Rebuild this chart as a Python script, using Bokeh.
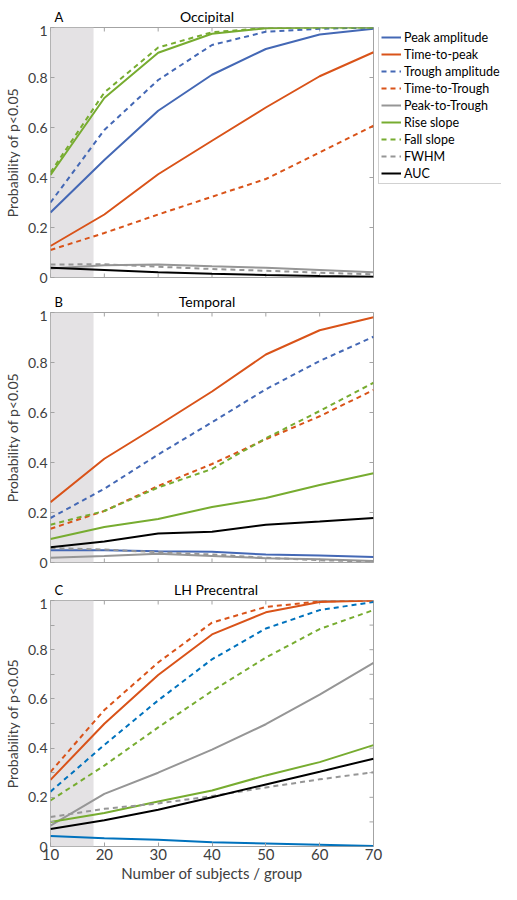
from bokeh.plotting import figure
from bokeh.models import Range1d, FixedTicker, Legend, LegendItem, Label, BoxAnnotation
from bokeh.layouts import column, row
from bokeh.embed import file_html
from bokeh.resources import INLINE
import math

# ---------------- data ----------------
subjects = [10, 20, 30, 40, 50, 60, 70]
shade_start = 10
shade_end = 18

x_ticks = [10, 20, 30, 40, 50, 60, 70]
y_ticks = [0, 0.2, 0.4, 0.6, 0.8, 1]
y_tick_labels = ["0", "0.2", "0.4", "0.6", "0.8", "1"]
y_minor_ticks = [0.1, 0.3, 0.5, 0.7, 0.9]

measures = ["Peak amplitude", "Time-to-peak", "Trough amplitude", "Time-to-Trough",
            "Peak-to-Trough", "Rise slope", "Fall slope", "FWHM", "AUC"]

# Occipital
occ_peak_amp = [0.26, 0.47, 0.667, 0.811, 0.914, 0.972, 0.995]
occ_time_to_peak = [0.126, 0.252, 0.413, 0.547, 0.68, 0.805, 0.901]
occ_trough_amp = [0.30, 0.59, 0.79, 0.93, 0.983, 0.995, 1.0]
occ_time_to_trough = [0.11, 0.178, 0.252, 0.323, 0.394, 0.50, 0.607]
occ_peak_to_trough = [0.036, 0.049, 0.052, 0.045, 0.039, 0.030, 0.021]
occ_rise_slope = [0.41, 0.718, 0.899, 0.975, 0.997, 1.0, 1.0]
occ_fall_slope = [0.42, 0.74, 0.92, 0.981, 0.998, 1.0, 1.0]
occ_fwhm = [0.052, 0.053, 0.043, 0.034, 0.027, 0.019, 0.013]
occ_auc = [0.039, 0.030, 0.021, 0.015, 0.010, 0.006, 0.003]

# Temporal
tmp_peak_amp = [0.049, 0.049, 0.045, 0.043, 0.032, 0.028, 0.022]
tmp_time_to_peak = [0.241, 0.415, 0.548, 0.684, 0.832, 0.929, 0.981]
tmp_trough_amp = [0.178, 0.295, 0.432, 0.561, 0.693, 0.806, 0.903]
tmp_time_to_trough = [0.135, 0.206, 0.306, 0.394, 0.493, 0.585, 0.69]
tmp_peak_to_trough = [0.019, 0.026, 0.035, 0.026, 0.017, 0.013, 0.006]
tmp_rise_slope = [0.094, 0.142, 0.174, 0.222, 0.258, 0.31, 0.357]
tmp_fall_slope = [0.151, 0.206, 0.30, 0.374, 0.497, 0.606, 0.719]
tmp_fwhm = [0.058, 0.052, 0.041, 0.032, 0.019, 0.009, 0.004]
tmp_auc = [0.061, 0.084, 0.116, 0.123, 0.151, 0.164, 0.178]

# LH Precentral
pre_peak_amp = [0.043, 0.034, 0.027, 0.017, 0.012, 0.007, 0.002]
pre_time_to_peak = [0.271, 0.499, 0.697, 0.862, 0.952, 0.994, 1.0]
pre_trough_amp = [0.223, 0.413, 0.594, 0.761, 0.886, 0.961, 0.994]
pre_time_to_trough = [0.303, 0.555, 0.748, 0.91, 0.974, 0.996, 1.0]
pre_peak_to_trough = [0.085, 0.214, 0.30, 0.394, 0.497, 0.617, 0.746]
pre_rise_slope = [0.10, 0.136, 0.183, 0.228, 0.289, 0.343, 0.412]
pre_fall_slope = [0.187, 0.329, 0.484, 0.632, 0.768, 0.884, 0.961]
pre_fwhm = [0.12, 0.153, 0.175, 0.205, 0.24, 0.273, 0.302]
pre_auc = [0.071, 0.107, 0.149, 0.20, 0.252, 0.304, 0.357]

# ---------------- style ----------------
FONT = "Lato"
AXC = "#a3a3a3"
TXT = "#404040"
BLUE_AB = "#4468b5"
BLUE_C = "#0072bd"
ORANGE = "#d95319"
GREEN = "#77ac30"
GRAY = "#969696"
BLACK = "#000000"
SHADE = "#e4e2e4"
DASH = "5 4"

W = 501
LEFT = 42
FRAME_W = 331
RIGHT_PAD = 5
LEG_W = W - LEFT - FRAME_W - RIGHT_PAD
FRAME_H = 250
TOP = 2
HEAD_H = 25
X_MIN, X_MAX = 10, 70
Y_MIN, Y_MAX = 0, 1


def styles(blue):
    return [(blue, "solid"), (ORANGE, "solid"), (blue, DASH), (ORANGE, DASH),
            (GRAY, "solid"), (GREEN, "solid"), (GREEN, DASH), (GRAY, DASH), (BLACK, "solid")]


def bare(width, height):
    f = figure(width=width, height=height, x_range=Range1d(0, 1), y_range=Range1d(0, 1),
               output_backend="svg", toolbar_location=None,
               x_axis_location=None, y_axis_location=None,
               min_border_left=0, min_border_right=0, min_border_top=0, min_border_bottom=0)
    f.grid.visible = False
    f.outline_line_color = None
    return f


def header(letter, name, title_shift):
    h = bare(W, HEAD_H)
    # positions are relative to the (column-aligned) frame's left edge
    h.add_layout(Label(x=4, y=9, x_units="screen", y_units="screen",
                       text=letter, text_align="left", text_baseline="alphabetic",
                       text_font=FONT, text_font_size="13px", text_color="black"))
    h.add_layout(Label(x=FRAME_W / 2 + title_shift, y=9, x_units="screen", y_units="screen",
                       text=name, text_align="center", text_baseline="alphabetic",
                       text_font=FONT, text_font_size="14px", text_color="black"))
    return h


def panel(series, blue, bottom, show_x, minor_y, right):
    height = TOP + FRAME_H + bottom
    p = figure(width=LEFT + FRAME_W + right, height=height,
               x_range=Range1d(X_MIN, X_MAX), y_range=Range1d(Y_MIN, Y_MAX),
               output_backend="svg", toolbar_location=None,
               min_border_left=LEFT, min_border_right=right,
               min_border_top=TOP, min_border_bottom=bottom)
    p.grid.visible = False
    p.outline_line_color = AXC
    p.outline_line_width = 1

    ya = p.yaxis[0]
    ya.ticker = FixedTicker(ticks=y_ticks, minor_ticks=y_minor_ticks if minor_y else [])
    ya.major_label_overrides = {t: l for t, l in zip(y_ticks, y_tick_labels)}
    ya.axis_line_color = None
    ya.major_tick_line_color = AXC
    ya.major_tick_in = 4
    ya.major_tick_out = 0
    ya.minor_tick_line_color = AXC if minor_y else None
    ya.minor_tick_in = 4
    ya.minor_tick_out = 0
    ya.major_label_text_font = FONT
    ya.major_label_text_font_size = "14px"
    ya.major_label_text_color = TXT
    ya.major_label_standoff = 3
    ya.axis_label = "Probability of p<0.05"
    ya.axis_label_text_font = FONT
    ya.axis_label_text_font_size = "14px"
    ya.axis_label_text_font_style = "normal"
    ya.axis_label_text_color = TXT
    ya.axis_label_standoff = 4

    xa = p.xaxis[0]
    if show_x:
        xa.ticker = FixedTicker(ticks=x_ticks)
        xa.axis_line_color = None
        xa.major_tick_line_color = AXC
        xa.major_tick_in = 4
        xa.major_tick_out = 0
        xa.minor_tick_line_color = None
        xa.major_label_text_font = FONT
        xa.major_label_text_font_size = "15px"
        xa.major_label_text_color = TXT
        xa.major_label_standoff = 2
        xa.axis_label = "Number of subjects / group"
        xa.axis_label_text_font = FONT
        xa.axis_label_text_font_size = "15px"
        xa.axis_label_text_font_style = "normal"
        xa.axis_label_text_color = TXT
        xa.axis_label_standoff = 1
    else:
        xa.visible = False
        p.scatter(x_ticks, [Y_MIN] * len(x_ticks), marker="dash", angle=math.pi / 2, size=8,
                  line_color=AXC, line_width=1)

    p.scatter(x_ticks, [Y_MAX] * len(x_ticks), marker="dash", angle=math.pi / 2, size=8,
              line_color=AXC, line_width=1)
    right_ticks = y_ticks + (y_minor_ticks if minor_y else [])
    p.scatter([X_MAX] * len(right_ticks), right_ticks, marker="dash", size=8,
              line_color=AXC, line_width=1)

    p.add_layout(BoxAnnotation(left=shade_start, right=shade_end, fill_color=SHADE,
                               fill_alpha=1.0, line_color=None, level="underlay"))

    for vals, (color, dash) in zip(series, styles(blue)):
        p.line(subjects, vals, line_color=color, line_width=2, line_dash=dash)
    return p


def legend_fig(height, blue, series):
    f = bare(LEG_W, height)
    rends = []
    # proxy renderers (their data lies outside this legend-only plot's range)
    for vals, (color, dash) in zip(series, styles(blue)):
        rends.append(f.line(subjects, vals, line_color=color, line_width=2, line_dash=dash))
    leg_h = 2 * 2 + 9 * 16 + 8 * 1
    leg = Legend(items=[LegendItem(label=m, renderers=[r]) for m, r in zip(measures, rends)],
                 location=(0, FRAME_H - leg_h - 1))
    leg.label_text_font = FONT
    leg.label_text_font_size = "12.5px"
    leg.label_text_color = "black"
    leg.glyph_width = 20
    leg.glyph_height = 16
    leg.label_height = 16
    leg.label_standoff = 3
    leg.spacing = 1
    leg.padding = 2
    leg.margin = 0
    leg.border_line_color = AXC
    leg.border_line_width = 1
    leg.background_fill_color = "white"
    leg.background_fill_alpha = 1.0
    f.add_layout(leg)
    return f


occ_series = [occ_peak_amp, occ_time_to_peak, occ_trough_amp, occ_time_to_trough, occ_peak_to_trough,
              occ_rise_slope, occ_fall_slope, occ_fwhm, occ_auc]
tmp_series = [tmp_peak_amp, tmp_time_to_peak, tmp_trough_amp, tmp_time_to_trough, tmp_peak_to_trough,
              tmp_rise_slope, tmp_fall_slope, tmp_fwhm, tmp_auc]
pre_series = [pre_peak_amp, pre_time_to_peak, pre_trough_amp, pre_time_to_trough, pre_peak_to_trough,
              pre_rise_slope, pre_fall_slope, pre_fwhm, pre_auc]

A_BOTTOM, B_BOTTOM, C_BOTTOM = 8, 11, 34

hA = header("A", "Occipital", -9)
pA = panel(occ_series, BLUE_AB, bottom=A_BOTTOM, show_x=False, minor_y=False, right=RIGHT_PAD)
lA = legend_fig(TOP + FRAME_H + A_BOTTOM, BLUE_AB, occ_series)
hB = header("B", "Temporal", -9)
pB = panel(tmp_series, BLUE_AB, bottom=B_BOTTOM, show_x=False, minor_y=False, right=W - LEFT - FRAME_W)
hC = header("C", "LH Precentral", 0)
pC = panel(pre_series, BLUE_C, bottom=C_BOTTOM, show_x=True, minor_y=True, right=W - LEFT - FRAME_W)

layout = column(hA, row(pA, lA, spacing=0), hB, pB, hC, pC, spacing=0)
open("out.html", "w").write(file_html(layout, INLINE))
